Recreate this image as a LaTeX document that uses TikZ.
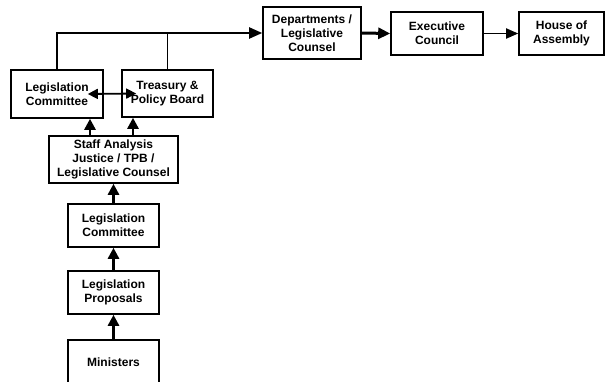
\documentclass[tikz,border=0pt]{standalone}
\usepackage{fontspec}
\setmainfont{Liberation Sans}
\usetikzlibrary{arrows.meta}
\begin{document}
\begin{tikzpicture}[x=1pt,y=-1pt,
  box/.style={draw=black, line width=1.6pt, fill=white, align=center, inner sep=0pt,
    font=\fontsize{12}{14}\selectfont\bfseries},
  conn/.style={line width=1.6pt},
  uparr/.style={line width=2.6pt, -{Triangle[length=11pt,width=11pt]}},
  toparr/.style={line width=2pt, -{Triangle[length=13pt,width=11pt]}},
  thickarr/.style={line width=3pt, -{Triangle[length=12pt,width=11pt]}},
  thinarr/.style={line width=1.8pt, -{Triangle[length=12pt,width=10pt]}},
  dblarr/.style={line width=1.8pt, {Triangle[length=10pt,width=10pt]}-{Triangle[length=10pt,width=10pt]}}]
\useasboundingbox (0,0) rectangle (605,381);
% boxes
\node[box, minimum width=92pt, minimum height=48pt] (lc1) at (57,94) {Legislation\\Committee};
\node[box, minimum width=91pt, minimum height=47pt] (tpb) at (167.5,93.5) {Treasury \&\\Policy Board};
\node[box, minimum width=129pt, minimum height=47pt] (staff) at (113.5,159.5) {Staff Analysis\\Justice / TPB /\\Legislative Counsel};
\node[box, minimum width=98pt, minimum height=52pt] (dep) at (312,33) {Departments /\\Legislative\\Counsel};
\node[box, minimum width=92pt, minimum height=43pt] (exe) at (437,33.5) {Executive\\Council};
\node[box, minimum width=85pt, minimum height=43pt] (house) at (561.5,33.5) {House of\\Assembly};
\node[box, minimum width=91pt, minimum height=43pt] (lc2) at (113.5,225.5) {Legislation\\Committee};
\node[box, minimum width=91pt, minimum height=43pt] (prop) at (113.5,292.5) {Legislation\\Proposals};
\node[box, minimum width=91pt, minimum height=44pt] (min) at (113.5,362) {Ministers};
% helper coordinates
\coordinate (c1) at (90,0);
\coordinate (c2) at (133,0);
% top connector
\draw[conn] (lc1.north) |- (tpb.north |- dep.west);
\draw[conn] (tpb.north) -- (tpb.north |- dep.west);
\draw[toparr] (tpb.north |- dep.west) -- (dep.west);
% right chain
\draw[thickarr] (dep.east) -- (exe.west);
\draw[thinarr] (exe.east) -- (house.west);
% double arrow
\draw[dblarr] ([xshift=-16pt]lc1.east) -- ([xshift=15pt]tpb.west);
% staff to committees
\draw[uparr] (staff.north -| c1) -- (lc1.south -| c1);
\draw[uparr] (staff.north -| c2) -- (tpb.south -| c2);
% vertical chain
\draw[uparr] (lc2.north) -- (staff.south);
\draw[uparr] (prop.north) -- (lc2.south);
\draw[uparr] (min.north) -- (prop.south);
\end{tikzpicture}
\end{document}
